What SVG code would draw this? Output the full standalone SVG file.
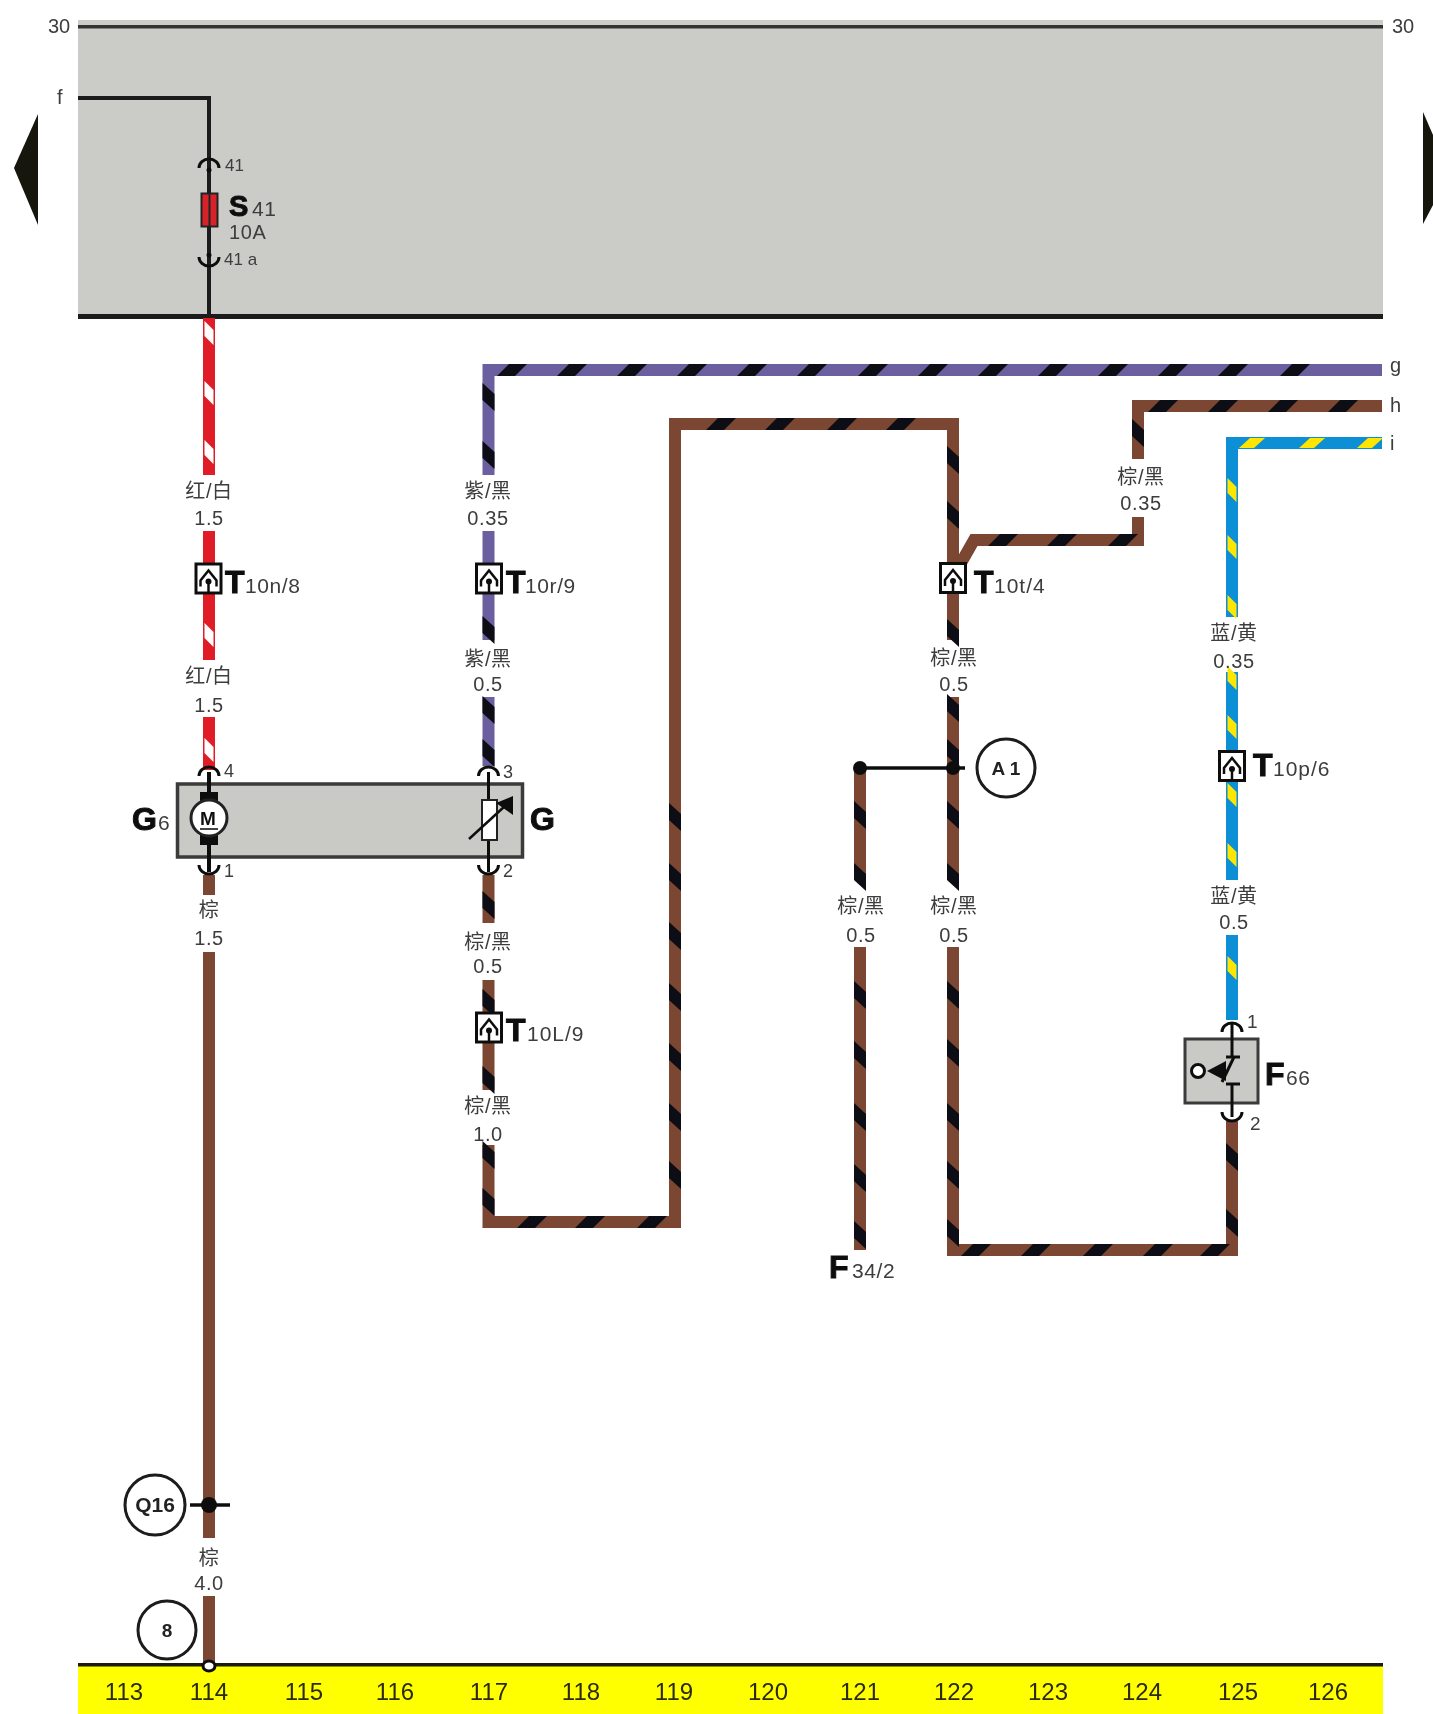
<svg xmlns="http://www.w3.org/2000/svg" width="1433" height="1714" viewBox="0 0 1433 1714">
<style>
text{font-family:"Liberation Sans","Noto Sans CJK SC",sans-serif;fill:#3c3c3c}
.l{font-size:20px;text-anchor:middle;letter-spacing:.6px}
.n{font-size:21px;letter-spacing:.6px}
.p{font-size:17px}
.b{font-size:32px;font-weight:bold;fill:#111;stroke:#111;stroke-width:1}
.x{font-size:24px;text-anchor:middle;fill:#2a2a10}
.o{font-size:19px;font-weight:bold;text-anchor:middle;fill:#222}
.w{fill:none;stroke-width:12}
.br{stroke:#7b4630}.pu{stroke:#6c5fa0}.re{stroke:#e01f26}.bl{stroke:#0b8fd6}
.k{fill:#0d0d12}.wh{fill:#fff}.ye{fill:#ffe600}
.t{fill:none;stroke:#111;stroke-width:3}
.ring{fill:#fff;stroke:#1a1a1a;stroke-width:3}
.dot{fill:#111}
</style>
<defs>
<filter id="soft" x="0" y="0" width="100%" height="100%"><feGaussianBlur stdDeviation="0.55"/></filter>
<polygon id="vs" points="-6,-14 6,-3 6,14 -6,3"/>
<polygon id="vi" points="-4.500,-12 4.500,-3 4.500,12 -4.500,3"/>
<polygon id="hs" points="-15,6 3,6 15,-6 -3,-6"/>
<polygon id="hi" points="-13,5 2,5 13,-5 -2,-5"/>
<g id="pu"><path class="t" d="M-10,5 A10,9 0 0 1 10,5"/></g>
<g id="pd"><path class="t" d="M-10,-5 A10,9 0 0 0 10,-5"/></g>
<g id="tc"><rect x="-12.500" y="-14.500" width="25" height="29" fill="#fff" stroke="#111" stroke-width="3"/><path d="M-8,8 V2 L0,-8 L8,2 V8" fill="none" stroke="#111" stroke-width="2.500"/><path d="M0,14 V3" stroke="#111" stroke-width="2.500"/><circle cx="0" cy="3" r="3" class="dot"/></g>
</defs>
<g filter="url(#soft)">
<rect width="1433" height="1714" fill="#fff"/>
<g id="panel">
<rect x="78" y="20" width="1305" height="296" fill="#cbcbc7"/>
<rect x="78" y="25" width="1305" height="3.500" fill="#333"/>
<rect x="78" y="314" width="1305" height="5" fill="#1c1c1c"/>
<text x="48" y="33" style="font-size:20px">30</text>
<text x="1392" y="33" style="font-size:20px">30</text>
</g>
<polygon id="page-prev" points="38,114 38,225 14,168" fill="#15120f"/>
<polygon id="page-next" points="1423,112 1433,135 1433,205 1423,224" fill="#15120f"/>
<g id="ground-bar">
<rect x="78" y="1665" width="1305" height="49" fill="#ffff00"/>
<rect x="78" y="1663" width="1305" height="3.500" fill="#1a1a10"/>
<text class="x" x="124" y="1700">113</text><text class="x" x="209" y="1700">114</text><text class="x" x="304" y="1700">115</text><text class="x" x="395" y="1700">116</text><text class="x" x="489" y="1700">117</text><text class="x" x="581" y="1700">118</text><text class="x" x="674" y="1700">119</text><text class="x" x="768" y="1700">120</text><text class="x" x="860" y="1700">121</text><text class="x" x="954" y="1700">122</text><text class="x" x="1048" y="1700">123</text><text class="x" x="1142" y="1700">124</text><text class="x" x="1238" y="1700">125</text><text class="x" x="1328" y="1700">126</text>
</g>
<g id="connectors">
<path d="M78,98 H209 V318" fill="none" stroke="#1c1c1c" stroke-width="4"/>
<path class="w re" d="M209,318 V475 M209,531 V660 M209,717 V770"/>
<path class="w pu" d="M1382,370 H488.500 V475 M488.500,531 V640 M488.500,697 V766"/>
<path class="w br" d="M209,875 V895 M209,952 V1538 M209,1596 V1665"/>
<path class="w br" d="M488.500,875 V923 M488.500,980 V1090 M488.500,1145 V1222 H675 V424 H953 V640 M953,697 V880 M953,947 V1250 H1232 V1120"/>
<path class="w br" d="M953,577 L974,540 H1138 V517 M1138,459 V406 H1382"/>
<path class="w br" d="M860,768 V880 M860,947 V1250"/>
<path class="w bl" d="M1382,443 H1232 V617 M1232,672 V880 M1232,935 V1020"/>
<path d="M860,768 H965" stroke="#111" stroke-width="3.500"/>
<path d="M190,1505 H230" stroke="#111" stroke-width="3.500"/>
<circle class="dot" cx="860" cy="768" r="7"/><circle class="dot" cx="953" cy="768" r="7"/><circle class="dot" cx="209" cy="1505" r="8"/>
<g class="wh"><use href="#vi" x="209" y="333"/><use href="#vi" x="209" y="393"/><use href="#vi" x="209" y="452"/><use href="#vi" x="209" y="635"/><use href="#vi" x="209" y="750"/></g>
<g class="k">
<use href="#hs" x="512" y="370"/><use href="#hs" x="572" y="370"/><use href="#hs" x="632" y="370"/><use href="#hs" x="692" y="370"/><use href="#hs" x="752" y="370"/><use href="#hs" x="812" y="370"/><use href="#hs" x="873" y="370"/><use href="#hs" x="933" y="370"/><use href="#hs" x="993" y="370"/><use href="#hs" x="1053" y="370"/><use href="#hs" x="1113" y="370"/><use href="#hs" x="1173" y="370"/><use href="#hs" x="1233" y="370"/><use href="#hs" x="1295" y="370"/>
<use href="#vs" x="488.500" y="397"/><use href="#vs" x="488.500" y="455"/><use href="#vs" x="488.500" y="630"/><use href="#vs" x="488.500" y="710"/><use href="#vs" x="488.500" y="753"/>
<use href="#hs" x="1163" y="406"/><use href="#hs" x="1223" y="406"/><use href="#hs" x="1283" y="406"/><use href="#hs" x="1343" y="406"/>
<use href="#vs" x="1138" y="433"/>
<use href="#hs" x="721" y="424"/><use href="#hs" x="780" y="424"/><use href="#hs" x="842" y="424"/><use href="#hs" x="901" y="424"/>
<use href="#hs" x="1003" y="540"/><use href="#hs" x="1062" y="540"/><use href="#hs" x="1123" y="540"/>
<use href="#vs" x="953" y="460"/><use href="#vs" x="953" y="515"/><use href="#vs" x="953" y="633"/><use href="#vs" x="953" y="708"/><use href="#vs" x="953" y="753"/><use href="#vs" x="953" y="815"/><use href="#vs" x="953" y="877"/><use href="#vs" x="953" y="995"/><use href="#vs" x="953" y="1053"/><use href="#vs" x="953" y="1117"/><use href="#vs" x="953" y="1175"/><use href="#vs" x="953" y="1233"/>
<use href="#vs" x="860" y="815"/><use href="#vs" x="860" y="877"/><use href="#vs" x="860" y="995"/><use href="#vs" x="860" y="1055"/><use href="#vs" x="860" y="1117"/><use href="#vs" x="860" y="1178"/><use href="#vs" x="860" y="1235"/>
<use href="#vs" x="488.500" y="905"/><use href="#vs" x="488.500" y="1003"/><use href="#vs" x="488.500" y="1080"/><use href="#vs" x="488.500" y="1155"/><use href="#vs" x="488.500" y="1202"/>
<use href="#hs" x="532" y="1222"/><use href="#hs" x="590" y="1222"/><use href="#hs" x="652" y="1222"/>
<use href="#vs" x="675" y="817"/><use href="#vs" x="675" y="877"/><use href="#vs" x="675" y="936"/><use href="#vs" x="675" y="997"/><use href="#vs" x="675" y="1057"/><use href="#vs" x="675" y="1117"/><use href="#vs" x="675" y="1175"/>
<use href="#hs" x="976" y="1250"/><use href="#hs" x="1036" y="1250"/><use href="#hs" x="1098" y="1250"/><use href="#hs" x="1158" y="1250"/><use href="#hs" x="1215" y="1250"/>
<use href="#vs" x="1232" y="1157"/><use href="#vs" x="1232" y="1223"/>
</g>
<g class="ye">
<use href="#hi" x="1252" y="443"/><use href="#hi" x="1312" y="443"/><use href="#hi" x="1370" y="443"/>
<use href="#vi" x="1232" y="490"/><use href="#vi" x="1232" y="547"/><use href="#vi" x="1232" y="607"/><use href="#vi" x="1232" y="678"/><use href="#vi" x="1232" y="727"/><use href="#vi" x="1232" y="795"/><use href="#vi" x="1232" y="855"/><use href="#vi" x="1232" y="968"/>
</g>
</g>
<g id="wire-labels">
<text class="l" x="209" y="498">红/白</text><text class="l" x="209" y="525">1.5</text>
<text class="l" x="209" y="683">红/白</text><text class="l" x="209" y="712">1.5</text>
<text class="l" x="209" y="917">棕</text><text class="l" x="209" y="945">1.5</text>
<text class="l" x="209" y="1565">棕</text><text class="l" x="209" y="1590">4.0</text>
<text class="l" x="488" y="498">紫/黑</text><text class="l" x="488" y="525">0.35</text>
<text class="l" x="488" y="666">紫/黑</text><text class="l" x="488" y="691">0.5</text>
<text class="l" x="488" y="949">棕/黑</text><text class="l" x="488" y="973">0.5</text>
<text class="l" x="488" y="1113">棕/黑</text><text class="l" x="488" y="1141">1.0</text>
<text class="l" x="1141" y="484">棕/黑</text><text class="l" x="1141" y="510">0.35</text>
<text class="l" x="954" y="665">棕/黑</text><text class="l" x="954" y="691">0.5</text>
<text class="l" x="861" y="913">棕/黑</text><text class="l" x="861" y="942">0.5</text>
<text class="l" x="954" y="913">棕/黑</text><text class="l" x="954" y="942">0.5</text>
<text class="l" x="1234" y="640">蓝/黄</text><text class="l" x="1234" y="668">0.35</text>
<text class="l" x="1234" y="903">蓝/黄</text><text class="l" x="1234" y="929">0.5</text>
<text x="57" y="104" style="font-size:20px">f</text>
<text x="1390" y="372" style="font-size:20px">g</text>
<text x="1390" y="412" style="font-size:20px">h</text>
<text x="1390" y="450" style="font-size:20px">i</text>
</g>
<g id="S41">
<use href="#pu" x="209" y="163"/><use href="#pd" x="209" y="262"/>
<rect x="201.500" y="193.500" width="16" height="33" fill="#d8202a" stroke="#222" stroke-width="2"/>
<path d="M209.500,193 V227" stroke="#222" stroke-width="2"/>
<circle class="dot" cx="209" cy="170" r="2.500"/><circle class="dot" cx="209" cy="255" r="2.500"/>
<text class="p" x="225" y="171">41</text>
<text class="b" x="229" y="216" style="font-size:29px">S</text><text class="n" x="252" y="216">41</text>
<text class="n" x="229" y="239" style="font-size:20px">10A</text>
<text class="p" x="224" y="265">41 a</text>
</g>
<g id="G6"><rect x="177.500" y="784" width="345" height="73" fill="#c9c9c5" stroke="#3a3a3a" stroke-width="3.500"/>
<use href="#pu" x="209" y="771"/><use href="#pd" x="209" y="870"/>
<path d="M209,772 V792 M209,845 V872" stroke="#111" stroke-width="4"/>
<rect x="200" y="792" width="18" height="11" fill="#111"/><rect x="200" y="833" width="18" height="12" fill="#111"/>
<circle cx="209" cy="818" r="18" fill="#fff" stroke="#222" stroke-width="3"/>
<text x="208" y="825" text-anchor="middle" style="font-size:19px;font-weight:bold;fill:#111">M</text>
<path d="M200,829 H218" stroke="#444" stroke-width="2"/>
<text class="b" x="132" y="830">G</text><text class="n" x="158" y="830">6</text>
<text class="p" x="224" y="777" style="font-size:18px">4</text><text class="p" x="224" y="877" style="font-size:18px">1</text>
</g>
<g id="G">
<use href="#pu" x="488.500" y="771"/><use href="#pd" x="488.500" y="870"/>
<path d="M488.500,772 V872" stroke="#111" stroke-width="3"/>
<rect x="482" y="800" width="15" height="40" fill="#fff" stroke="#222" stroke-width="2"/>
<path d="M469,839 L505,806" stroke="#111" stroke-width="2.500"/><polygon points="513,796 513,815 496,803" fill="#111"/>
<text class="b" x="530" y="830">G</text>
<text class="p" x="503" y="778" style="font-size:18px">3</text><text class="p" x="503" y="877" style="font-size:18px">2</text>
</g>
<g id="T10n8"><use href="#tc" x="208.500" y="578.500"/><text class="b" x="225" y="593">T</text><text class="n" x="245" y="593">10n/8</text></g>
<g id="T10r9"><use href="#tc" x="489" y="578.500"/><text class="b" x="506" y="593">T</text><text class="n" x="525" y="593">10r/9</text></g>
<g id="T10t4"><use href="#tc" x="953" y="578"/><text class="b" x="974" y="593">T</text><text class="n" x="994" y="593" style="letter-spacing:1px">10t/4</text></g>
<g id="T10p6"><use href="#tc" x="1232" y="766"/><text class="b" x="1253" y="776">T</text><text class="n" x="1273" y="776" style="letter-spacing:1px">10p/6</text></g>
<g id="T10L9"><use href="#tc" x="489" y="1027.500"/><text class="b" x="506" y="1041">T</text><text class="n" x="527" y="1041" style="letter-spacing:1px">10L/9</text></g>
<g id="F66"><rect x="1185" y="1039" width="73" height="64" fill="#c9c9c5" stroke="#3a3a3a" stroke-width="3"/>
<use href="#pu" x="1232" y="1027"/><use href="#pd" x="1232" y="1117"/>
<path d="M1232,1024 V1057 M1226,1057 H1240 M1234,1057 L1222,1082 M1226,1084 H1240 M1232,1084 V1117" stroke="#111" stroke-width="3" fill="none"/>
<circle cx="1198" cy="1071" r="6.500" fill="#fff" stroke="#111" stroke-width="3"/>
<polygon points="1207,1071 1226,1061 1226,1081" fill="#111"/>
<text class="p" x="1247" y="1028" style="font-size:19px">1</text><text class="p" x="1250" y="1130" style="font-size:19px">2</text>
<text class="b" x="1265" y="1085">F</text><text class="n" x="1286" y="1085">66</text>
</g>
<g id="F342"><text class="b" x="829" y="1278">F</text><text class="n" x="852" y="1278">34/2</text></g>
<g id="A1"><circle class="ring" cx="1006" cy="768" r="29"/><text class="o" x="1006" y="775">A 1</text></g>
<g id="Q16"><circle class="ring" cx="155" cy="1505" r="30"/><text class="o" x="155" y="1512" style="font-size:21px">Q16</text></g>
<g id="N8"><circle class="ring" cx="167" cy="1630" r="29"/><text class="o" x="167" y="1637">8</text></g>
<ellipse id="ground-point" cx="209" cy="1666" rx="6" ry="5" fill="#fff" stroke="#111" stroke-width="3"/>
</g>
</svg>
